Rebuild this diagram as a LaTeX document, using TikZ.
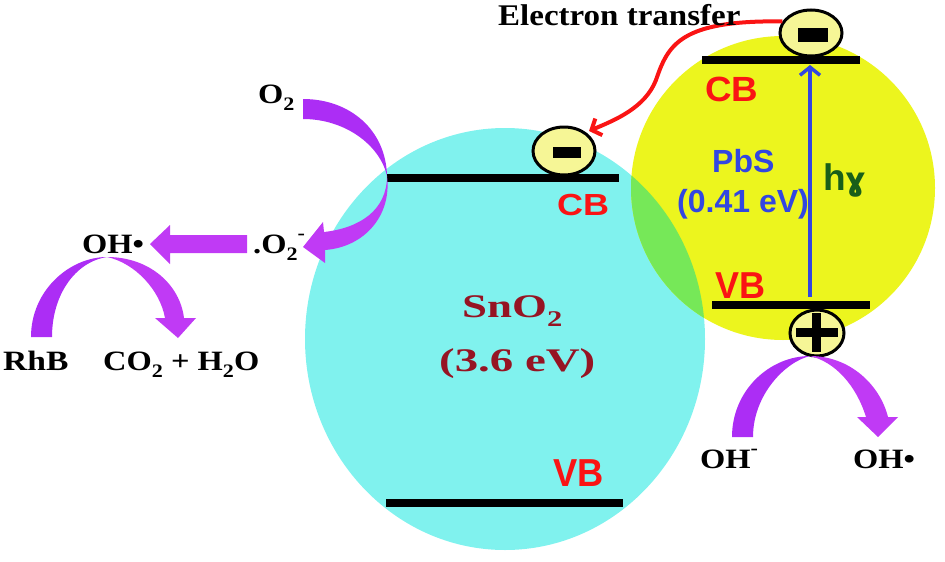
\documentclass[tikz,border=0pt]{standalone}
\usepackage{fontspec}
\setmainfont{Liberation Serif}
\newfontfamily\arialf{Liberation Sans}
\newfontfamily\dejaf{DejaVu Sans}
\usetikzlibrary{arrows.meta,shapes.geometric}
\definecolor{cyanb}{RGB}{128,242,238}
\definecolor{yellowb}{RGB}{236,245,30}
\definecolor{greenb}{RGB}{118,232,88}
\definecolor{purp}{RGB}{172,45,245}
\definecolor{purpl}{RGB}{192,58,245}
\definecolor{redt}{RGB}{250,20,20}
\definecolor{darkred}{RGB}{150,20,35}
\definecolor{bluet}{RGB}{50,70,225}
\definecolor{dgreen}{RGB}{25,95,25}
\definecolor{efill}{RGB}{246,246,150}
\newcommand\xsc[2]{\scalebox{#1}[1]{#2}}
\newcommand\subx[1]{\raisebox{-0.28em}{\scalebox{0.68}{#1}}}
\newcommand\supx[1]{\raisebox{0.5em}{\scalebox{0.68}{#1}}}
\tikzset{
  serif/.style={font=\fontsize{28}{30}\selectfont\bfseries, inner sep=0, anchor=base west},
  bigserif/.style={font=\fontsize{33}{36}\selectfont\bfseries, inner sep=0, anchor=base west, text=darkred},
  band/.style={font=\arialf\bfseries, inner sep=0, anchor=base west, text=redt},
  bar/.style={line width=8pt},
  carrier/.style={draw=black, line width=3pt, fill=efill, ellipse, inner sep=0},
  purparrow/.style={fill=purp, draw=none},
  purparrowl/.style={fill=purpl, draw=none},
}
\begin{document}
\begin{tikzpicture}[x=1pt,y=-1pt]
\useasboundingbox (0,0) rectangle (945,562);
% particles
\fill[cyanb] (505,339) ellipse [x radius=200, y radius=211];
\fill[yellowb] (783,188) circle [radius=152];
\begin{scope}
\clip (505,339) ellipse [x radius=200, y radius=211];
\fill[greenb] (783,188) circle [radius=152];
\end{scope}
% band edges
\coordinate (sCBl) at (387,178); \coordinate (sCBr) at (619,178);
\coordinate (sVBl) at (386,503); \coordinate (sVBr) at (623,503);
\coordinate (pCBl) at (702,60);  \coordinate (pCBr) at (860,60);
\coordinate (pVBl) at (712,305); \coordinate (pVBr) at (870,305);
\draw[bar] (sCBl) -- (sCBr);
\draw[bar] (sVBl) -- (sVBr);
\draw[bar] (pCBl) -- (pCBr);
\draw[bar] (pVBl) -- (pVBr);
% labels
\node[band, font=\arialf\bfseries\fontsize{30.5}{32}\selectfont] (lsCB) at (557,215) {\xsc{1.18}{CB}};
\node[band, font=\arialf\bfseries\fontsize{39}{40}\selectfont] (lsVB) at (553,486) {\xsc{0.93}{VB}};
\node[band, font=\arialf\bfseries\fontsize{35}{36}\selectfont] (lpCB) at (705,101) {\xsc{1.05}{CB}};
\node[band, font=\arialf\bfseries\fontsize{37.5}{38}\selectfont] (lpVB) at (715,298) {\xsc{0.96}{VB}};
\node[band, text=bluet, font=\arialf\bfseries\fontsize{32}{33}\selectfont] (pbs) at (712,172) {PbS};
\node[band, text=bluet, font=\arialf\bfseries\fontsize{32}{33}\selectfont] (pbsgap) at (677,212) {(0.41 eV)};
\node[band, text=dgreen, font=\arialf\bfseries\fontsize{37}{38}\selectfont] (hv) at (823,190) {h{\dejaf\fontsize{32}{33}\selectfont ɣ}};
\node[bigserif] (sno) at (462,317) {\xsc{1.36}{SnO\subx{2}}};
\node[bigserif] (snogap) at (439,371) {\xsc{1.42}{(3.6 eV)}};
% carriers
\node[carrier, minimum width=62pt, minimum height=48pt] (e1) at (564,151) {};
\fill (553,147) rectangle (581,158);
\node[carrier, minimum width=62pt, minimum height=46pt] (e2) at (811,33) {};
\fill (798,28) rectangle (828,42);
\node[carrier, minimum width=54pt, minimum height=46pt] (h1) at (817,333) {};
\fill (796,328) rectangle (838,337);
\fill (812,313) rectangle (821,352);
% excitation
\coordinate (exA) at (810,297);
\coordinate (exB) at (810,65);
\draw[bluet, line width=3.5pt, -{Straight Barb[length=8pt,width=20pt,line width=3.5pt]}] (exA) -- (exB);
% electron transfer
\draw[redt, line width=4pt, -{Straight Barb[length=8pt,width=18pt,line width=4pt]}]
  (e2.158) .. controls (680,20) and (668,45) .. (656,80)
  .. controls (645,108) and (615,120) .. (589,131);
% text
\node[serif, font=\fontsize{30}{30}\selectfont\bfseries] (et) at (498,25) {\xsc{1.1}{Electron transfer}};
\node[serif] (o2) at (258,103) {\xsc{1.16}{O\subx{2}}};
\node[serif] (o2m) at (253,253) {\xsc{1.16}{.O\subx{2}\supx{-}}};
\node[serif] (oh1) at (82,253) {\xsc{1.16}{OH•}};
\node[serif] (rhb) at (3,370) {\xsc{1.2}{RhB}};
\node[serif] (prod) at (103,370) {\xsc{1.16}{CO\subx{2} + H\subx{2}O}};
\node[serif] (oh2) at (700,468) {\xsc{1.16}{OH\supx{-}}};
\node[serif] (oh3) at (853,468) {\xsc{1.16}{OH•}};
% purple arrows
% O2 -> .O2-
\fill[purparrow] (303,99) .. controls (350,99) and (386,130) .. (387,176)
  .. controls (380,145) and (345,119) .. (303,119) -- cycle;
\fill[purparrowl] (387,176) .. controls (387,210) and (360,228) .. (324,232)
  -- (323,222) -- (303,247) -- (325,263) -- (325,250)
  .. controls (365,247) and (392,215) .. (387,176) -- cycle;
% .O2- -> OH
\fill[purparrowl] (247,235) -- (170,235) -- (170,225) -- (150,244) -- (170,264) -- (170,253) -- (247,253) -- cycle;
% RhB -> CO2
\fill[purparrow] (31,337) .. controls (31,290) and (70,257) .. (107,257)
  .. controls (75,262) and (52,295) .. (52,337) -- cycle;
\fill[purparrowl] (107,257) .. controls (150,257) and (180,285) .. (184,318)
  -- (196,318) -- (178,338) -- (155,318) -- (165,318)
  .. controls (160,290) and (135,263) .. (107,257) -- cycle;
% OH- -> OH.
\fill[purparrow] (732,437) .. controls (732,390) and (770,356) .. (810,356)
  .. controls (785,362) and (753,395) .. (753,437) -- cycle;
\fill[purparrowl] (810,356) .. controls (850,356) and (880,385) .. (888,417)
  -- (898,417) -- (878,437) -- (857,417) -- (866,417)
  .. controls (856,385) and (835,362) .. (810,356) -- cycle;
\end{tikzpicture}
\end{document}
